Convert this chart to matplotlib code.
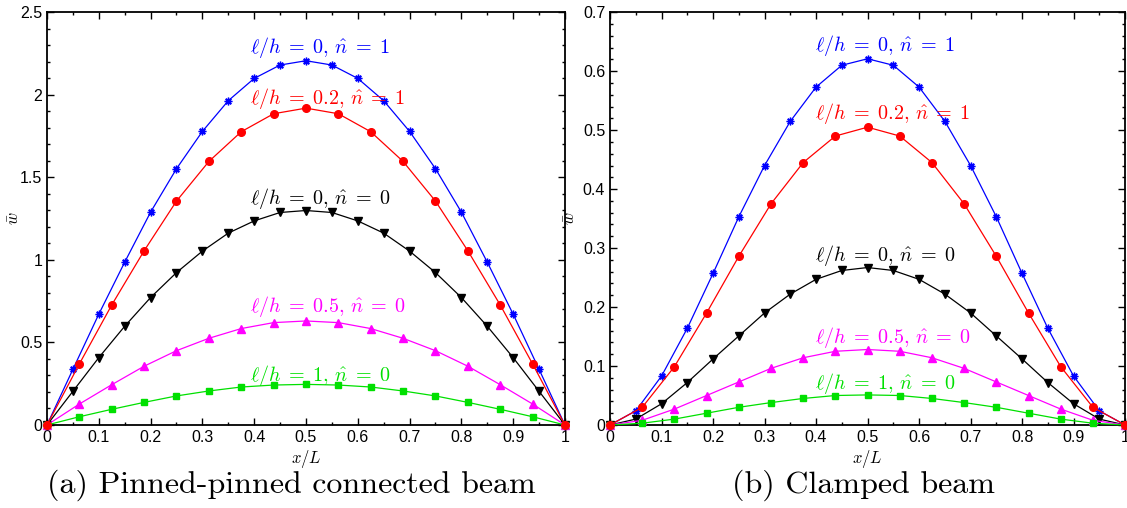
import numpy as np
import matplotlib
matplotlib.use("Agg")
import matplotlib.pyplot as plt
from matplotlib.ticker import MultipleLocator, FormatStrFormatter

plt.rcParams['mathtext.fontset'] = 'cm'
plt.rcParams['font.family'] = ['Liberation Sans', 'DejaVu Sans']

# x positions of markers
x20 = [0, 0.05, 0.1, 0.15, 0.2, 0.25, 0.3, 0.35, 0.4, 0.45, 0.5,
       0.55, 0.6, 0.65, 0.7, 0.75, 0.8, 0.85, 0.9, 0.95, 1.0]
x16 = [0, 0.0625, 0.125, 0.1875, 0.25, 0.3125, 0.375, 0.4375, 0.5,
       0.5625, 0.625, 0.6875, 0.75, 0.8125, 0.875, 0.9375, 1.0]

# (a) Pinned-pinned connected beam
a_blue = [0, 0.337, 0.671, 0.986, 1.289, 1.552, 1.778, 1.964, 2.099, 2.180, 2.206,
          2.180, 2.099, 1.964, 1.778, 1.552, 1.289, 0.986, 0.671, 0.337, 0]
a_red = [0, 0.370, 0.727, 1.055, 1.356, 1.596, 1.776, 1.885, 1.919,
         1.885, 1.776, 1.596, 1.356, 1.055, 0.727, 0.370, 0]
a_black = [0, 0.204, 0.408, 0.598, 0.772, 0.923, 1.053, 1.162, 1.236, 1.287, 1.299,
           1.287, 1.236, 1.162, 1.053, 0.923, 0.772, 0.598, 0.408, 0.204, 0]
a_mag = [0, 0.127, 0.244, 0.356, 0.450, 0.525, 0.584, 0.620, 0.630,
         0.620, 0.584, 0.525, 0.450, 0.356, 0.244, 0.127, 0]
a_green = [0, 0.050, 0.095, 0.137, 0.176, 0.206, 0.230, 0.242, 0.246,
           0.242, 0.230, 0.206, 0.176, 0.137, 0.095, 0.050, 0]

# (b) Clamped beam
b_blue = [0, 0.024, 0.083, 0.164, 0.257, 0.353, 0.440, 0.515, 0.573, 0.610, 0.621,
          0.610, 0.573, 0.515, 0.440, 0.353, 0.257, 0.164, 0.083, 0.024, 0]
b_red = [0, 0.030, 0.099, 0.190, 0.286, 0.375, 0.445, 0.490, 0.505,
         0.490, 0.445, 0.375, 0.286, 0.190, 0.099, 0.030, 0]
b_black = [0, 0.010, 0.036, 0.072, 0.112, 0.151, 0.190, 0.222, 0.247, 0.262, 0.267,
           0.262, 0.247, 0.222, 0.190, 0.151, 0.112, 0.072, 0.036, 0.010, 0]
b_mag = [0, 0.008, 0.027, 0.050, 0.073, 0.096, 0.114, 0.125, 0.128,
         0.125, 0.114, 0.096, 0.073, 0.050, 0.027, 0.008, 0]
b_green = [0, 0.003, 0.010, 0.020, 0.030, 0.038, 0.045, 0.050, 0.051,
           0.050, 0.045, 0.038, 0.030, 0.020, 0.010, 0.003, 0]

labels = [r'$\ell/h\;=\;0,\,\hat{n}\;=\;1$', r'$\ell/h\;=\;0.2,\,\hat{n}\;=\;1$',
          r'$\ell/h\;=\;0,\,\hat{n}\;=\;0$', r'$\ell/h\;=\;0.5,\,\hat{n}\;=\;0$',
          r'$\ell/h\;=\;1,\,\hat{n}\;=\;0$']
colors = ['#0000ff', '#ff0000', '#000000', '#ff00ff', '#00e000']
captions = ['(a) Pinned-pinned connected beam', '(b) Clamped beam']

fig = plt.figure(figsize=(11.27, 5.08), dpi=100)
ax1 = fig.add_axes([0.0417, 0.1634, 0.4596, 0.8126])
ax2 = fig.add_axes([0.5413, 0.1634, 0.4570, 0.8126])

def fmt(v, pos):
    return '%g' % round(v, 6)

def draw(ax, series, ymax, ymaj, ymin, label_y, label_x, ylab_x):
    styles = [dict(marker=(8, 2, 0), ms=5.5, mew=1.0),
              dict(marker='o', ms=5.5),
              dict(marker='v', ms=5.5),
              dict(marker='^', ms=5.5),
              dict(marker='s', ms=4)]
    zs = [2, 6, 3, 4, 5]
    for (xs, ys), c, st, z in zip(series, colors, styles, zs):
        ax.plot(xs, ys, color=c, lw=0.9, mfc=c, mec=c, zorder=z, clip_on=False, **st)
    for lab, c, ly in zip(labels, colors, label_y):
        ax.text(label_x, ly, lab, color=c, fontsize=14.5, va='center', ha='left')
    ax.set_xlim(0, 1)
    ax.set_ylim(0, ymax)
    ax.xaxis.set_major_locator(MultipleLocator(0.1))
    ax.xaxis.set_minor_locator(MultipleLocator(0.05))
    ax.yaxis.set_major_locator(MultipleLocator(ymaj))
    ax.yaxis.set_minor_locator(MultipleLocator(ymin))
    ax.xaxis.set_major_formatter(plt.FuncFormatter(fmt))
    ax.yaxis.set_major_formatter(plt.FuncFormatter(fmt))
    ax.tick_params(which='both', direction='in', top=True, right=True, labelsize=11.5, width=1.0)
    ax.tick_params(which='major', length=5)
    ax.tick_params(which='minor', length=2.5)
    for s in ax.spines.values():
        s.set_linewidth(1.3)
    ax.set_xlabel(r'$x/L$', fontsize=12, labelpad=2)
    ax.set_ylabel(r'$\bar{w}$', fontsize=12)
    ax.yaxis.set_label_coords(ylab_x, 0.5)

draw(ax1, [(x20, a_blue), (x16, a_red), (x20, a_black), (x16, a_mag), (x16, a_green)],
     2.5, 0.5, 0.1, [2.285, 1.98, 1.37, 0.715, 0.30], 0.392, -0.048)
draw(ax2, [(x20, b_blue), (x16, b_red), (x20, b_black), (x16, b_mag), (x16, b_green)],
     0.7, 0.1, 0.02, [0.644, 0.529, 0.288, 0.149, 0.071], 0.398, -0.062)

fig.text(291 / 1127, 1 - 485 / 508, captions[0], family='cmr10', fontsize=23, ha='center', va='center')
fig.text(863 / 1127, 1 - 485 / 508, captions[1], family='cmr10', fontsize=23, ha='center', va='center')

fig.savefig('out.png', dpi=100)
